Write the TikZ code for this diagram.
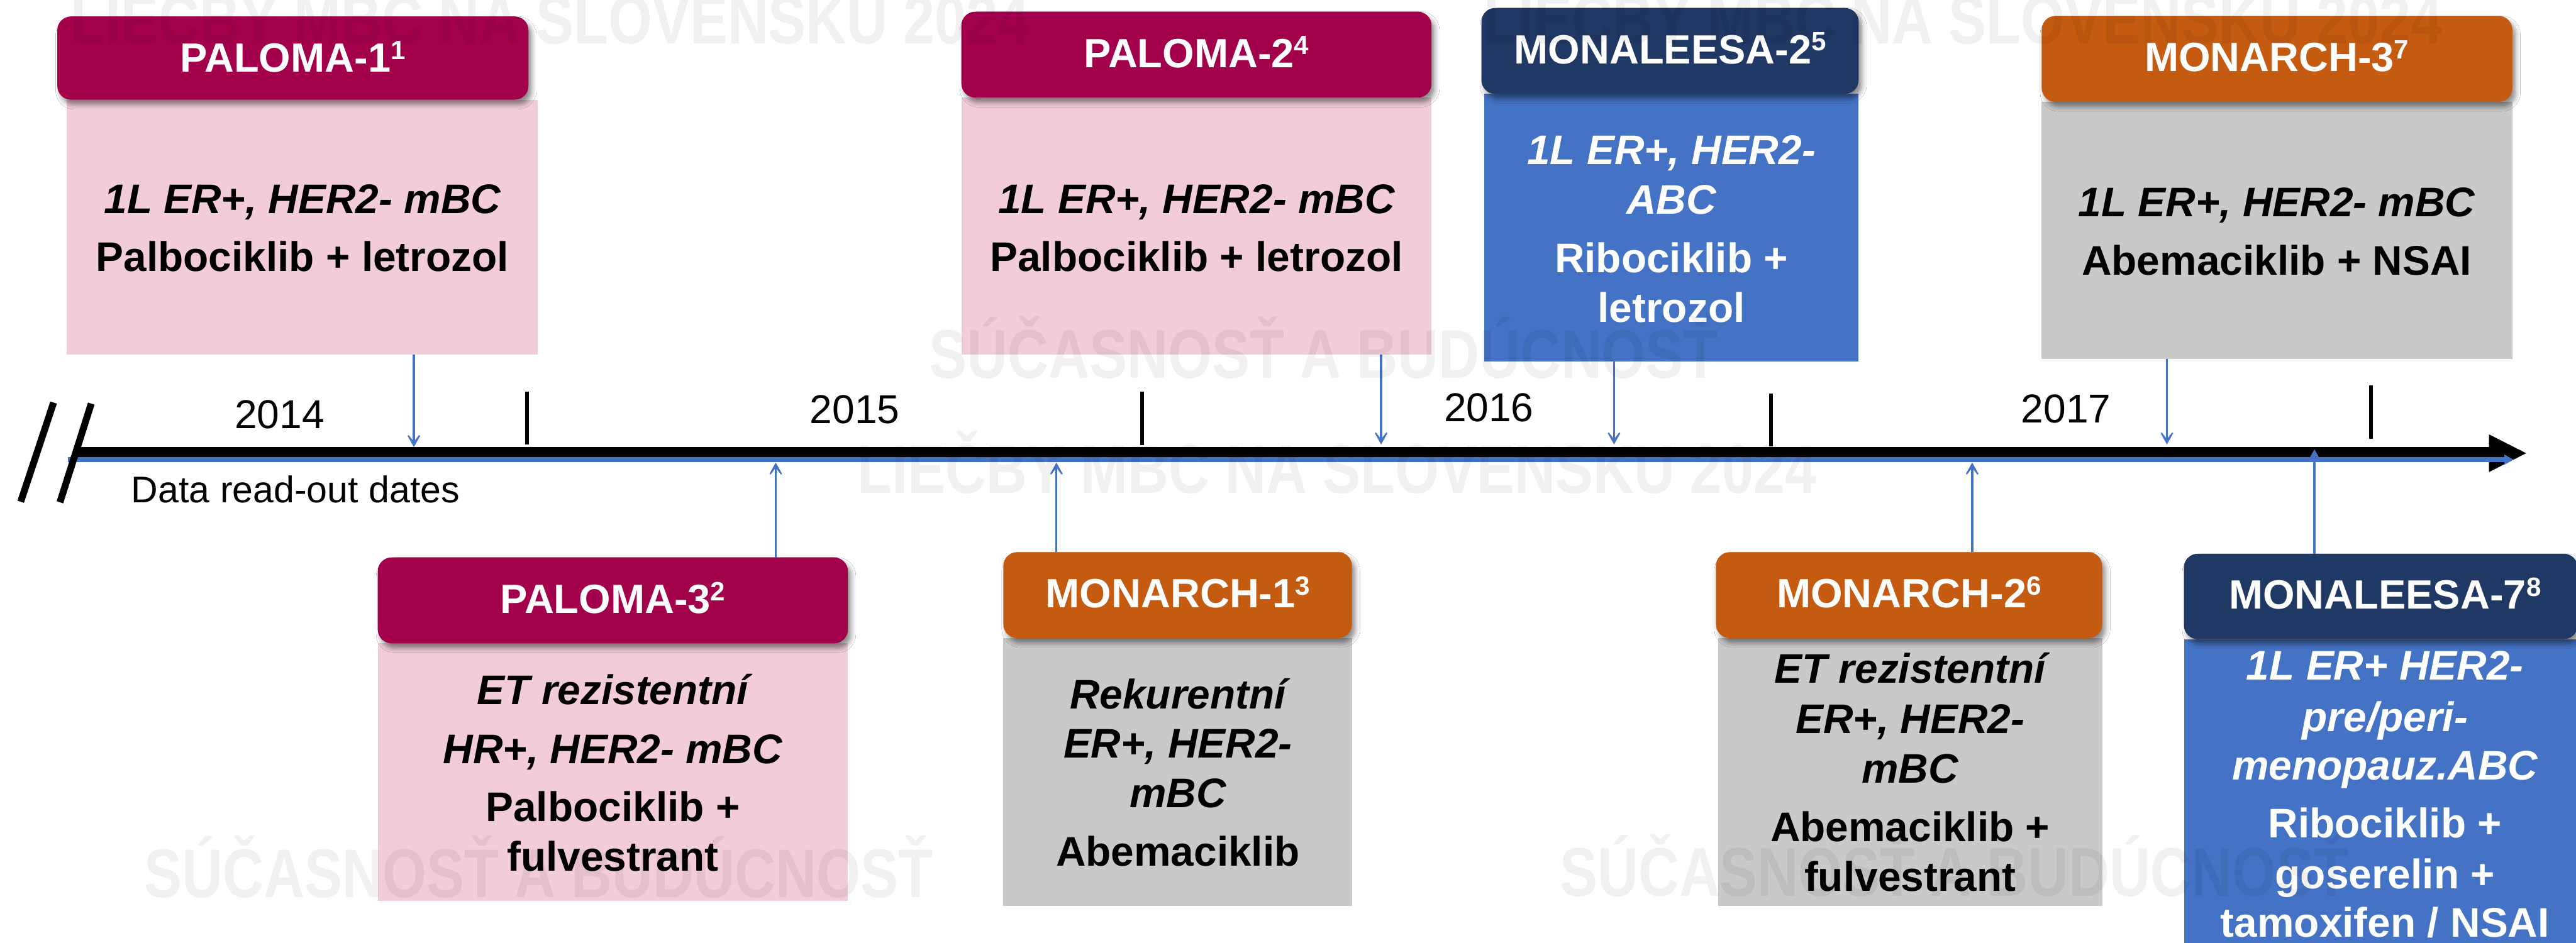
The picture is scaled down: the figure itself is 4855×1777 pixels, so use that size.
\documentclass[tikz,border=0pt]{standalone}
\usepackage{fontspec}
\setmainfont{Liberation Sans}
\newfontfamily\wmfont[FakeStretch=0.82]{Liberation Sans Bold}
\usetikzlibrary{arrows.meta,shadows.blur}
\definecolor{magc}{HTML}{A3004C}
\definecolor{navyc}{HTML}{203864}
\definecolor{orac}{HTML}{C55A11}
\definecolor{pinkc}{HTML}{F2CCDB}
\definecolor{bluec}{HTML}{4472C4}
\definecolor{grayc}{HTML}{C9C9C9}
\newcommand\supn[1]{\raisebox{24pt}{\fontsize{50}{50}\selectfont #1}}
\tikzset{
  hdr/.style={rectangle, rounded corners=26pt, inner sep=0pt, outer sep=0pt, anchor=north west,
    blur shadow={shadow xshift=6pt, shadow yshift=-9pt, shadow blur radius=9pt, shadow opacity=45}},
  bodybox/.style={rectangle, inner sep=0pt, outer sep=0pt, anchor=north west},
  ttl/.style={anchor=base, text=white, inner sep=0pt, font=\fontsize{77}{77}\selectfont\bfseries},
  txt/.style={anchor=base, inner sep=0pt, font=\fontsize{78}{78}\selectfont\bfseries},
  itx/.style={anchor=base, inner sep=0pt, font=\fontsize{78}{78}\selectfont\bfseries\itshape},
  yearlbl/.style={anchor=base, inner sep=0pt, font=\fontsize{76}{76}\selectfont},
  tickmark/.style={line width=7pt},
  conn/.style={draw=bluec, line width=4pt, -{Stealth[length=36pt,width=40pt,inset=26pt]}},
  wm/.style={anchor=base, inner sep=0pt, text=black, text opacity=0.055, font=\fontsize{130}{130}\wmfont},
}
\begin{document}
\begin{tikzpicture}[x=1pt,y=-1pt]
\clip (0,0) rectangle (4855,1777);
\fill[white] (0,0) rectangle (4855,1777);

% ---- bodies ----
\node[bodybox, fill=pinkc, minimum width=888pt, minimum height=481pt] (p1b) at (126,188) {};
\node[bodybox, fill=pinkc, minimum width=886pt, minimum height=485pt] (p2b) at (1812,184) {};
\node[bodybox, fill=bluec, minimum width=706pt, minimum height=505pt] (m2b) at (2797,177) {};
\node[bodybox, fill=grayc, minimum width=887pt, minimum height=485pt] (m3b) at (3848,192) {};
\node[bodybox, fill=pinkc, minimum width=886pt, minimum height=485pt] (p3b) at (712,1213) {};
\node[bodybox, fill=grayc, minimum width=657pt, minimum height=505pt] (n1b) at (1891,1203) {};
\node[bodybox, fill=grayc, minimum width=724pt, minimum height=505pt] (n2b) at (3238,1203) {};
\node[bodybox, fill=bluec, minimum width=740pt, minimum height=700pt] (m7b) at (4116,1205) {};

% ---- headers ----
\node[hdr, fill=magc, minimum width=888pt, minimum height=157pt] (p1h) at (108,31) {};
\node[hdr, fill=magc, minimum width=886pt, minimum height=162pt] (p2h) at (1812,22) {};
\node[hdr, fill=navyc, minimum width=711pt, minimum height=162pt] (m2h) at (2792,15) {};
\node[hdr, fill=orac, minimum width=887pt, minimum height=162pt] (m3h) at (3848,30) {};
\node[hdr, fill=magc, minimum width=886pt, minimum height=162pt] (p3h) at (712,1051) {};
\node[hdr, fill=orac, minimum width=657pt, minimum height=162pt] (n1h) at (1891,1041) {};
\node[hdr, fill=orac, minimum width=728pt, minimum height=162pt] (n2h) at (3234,1041) {};
\node[hdr, fill=navyc, minimum width=742pt, minimum height=161pt] (m7h) at (4116,1044) {};

% ---- titles ----
\node[ttl] (p1t) at (552,136) {PALOMA-1\supn{1}};
\node[ttl] (p2t) at (2255,127) {PALOMA-2\supn{4}};
\node[ttl] (m2t) at (3148,120) {MONALEESA-2\supn{5}};
\node[ttl] (m3t) at (4291,135) {MONARCH-3\supn{7}};
\node[ttl] (p3t) at (1155,1156) {PALOMA-3\supn{2}};
\node[ttl] (n1t) at (2220,1146) {MONARCH-1\supn{3}};
\node[ttl] (n2t) at (3598,1146) {MONARCH-2\supn{6}};
\node[ttl] (m7t) at (4495,1148) {MONALEESA-7\supn{8}};

% ---- body texts ----
\node[itx] (p1x1) at (570,402) {1L ER+, HER2- mBC};
\node[txt] (p1x2) at (570,512) {Palbociklib + letrozol};
\node[itx] (p2x1) at (2255,402) {1L ER+, HER2- mBC};
\node[txt] (p2x2) at (2255,511) {Palbociklib + letrozol};
\node[itx, text=white] (m2x1) at (3150,310) {1L ER+, HER2-};
\node[itx, text=white] (m2x2) at (3150,404) {ABC};
\node[txt, text=white] (m2x3) at (3150,514) {Ribociklib +};
\node[txt, text=white] (m2x4) at (3150,608) {letrozol};
\node[itx] (m3x1) at (4291,408) {1L ER+, HER2- mBC};
\node[txt] (m3x2) at (4291,519) {Abemaciklib + NSAI};
\node[itx] (p3x1) at (1155,1328) {ET rezistentní};
\node[itx] (p3x2) at (1155,1439) {HR+, HER2- mBC};
\node[txt] (p3x3) at (1155,1548) {Palbociklib +};
\node[txt] (p3x4) at (1155,1642) {fulvestrant};
\node[itx] (n1x1) at (2220,1336) {Rekurentní};
\node[itx] (n1x2) at (2220,1429) {ER+, HER2-};
\node[itx] (n1x3) at (2220,1523) {mBC};
\node[txt] (n1x4) at (2220,1633) {Abemaciklib};
\node[itx] (n2x1) at (3600,1288) {ET rezistentní};
\node[itx] (n2x2) at (3600,1383) {ER+, HER2-};
\node[itx] (n2x3) at (3600,1476) {mBC};
\node[txt] (n2x4) at (3600,1586) {Abemaciklib +};
\node[txt] (n2x5) at (3600,1680) {fulvestrant};
\node[itx, text=white] (m7x1) at (4495,1282) {1L ER+ HER2-};
\node[itx, text=white] (m7x2) at (4495,1379) {pre/peri-};
\node[itx, text=white] (m7x3) at (4495,1470) {menopauz.ABC};
\node[txt, text=white] (m7x4) at (4495,1579) {Ribociklib +};
\node[txt, text=white] (m7x5) at (4495,1675) {goserelin +};
\node[txt, text=white] (m7x6) at (4495,1767) {tamoxifen / NSAI};

% ---- timeline ----
\fill[black] (140,843) -- (4691,843) -- (4691,819) -- (4761,854.5) -- (4691,890) -- (4691,862) -- (140,862) -- cycle;
\draw[bluec, line width=9pt, -{Triangle[length=17pt,width=18pt]}] (128,866.5) -- (4737,866.5);
\draw[line width=13pt] (101,759) -- (39,946);
\draw[line width=13pt] (172,761) -- (113,947);
\draw[tickmark] (993,739) -- (993,838);
\draw[tickmark] (2153,739) -- (2153,839);
\draw[tickmark] (3338,742) -- (3338,842);
\draw[tickmark] (4469,727) -- (4469,827);
\node[yearlbl] (y14) at (527,808) {2014};
\node[yearlbl] (y15) at (1611,798) {2015};
\node[yearlbl] (y16) at (2806,795) {2016};
\node[yearlbl] (y17) at (3894,797) {2017};
\node[anchor=base, inner sep=0pt, font=\fontsize{70}{70}\selectfont] (drd) at (557,948) {Data read-out dates};

% ---- connectors ----
\coordinate (a1) at (780,843);
\coordinate (a2) at (2603,838);
\coordinate (a3) at (3042,838);
\coordinate (a4) at (4084,838);
\coordinate (b1) at (1462,872);
\coordinate (b2) at (1991,872);
\coordinate (b3) at (3717,872);
\coordinate (b4) at (4362,847);
\draw[conn] (p1b.south -| a1) -- (a1);
\draw[conn] (p2b.south -| a2) -- (a2);
\draw[conn] (m2b.south -| a3) -- (a3);
\draw[conn] (m3b.south -| a4) -- (a4);
\draw[conn] (p3h.north -| b1) -- (b1);
\draw[conn] (n1h.north -| b2) -- (b2);
\draw[conn] (n2h.north -| b3) -- (b3);
\draw[conn] (m7h.north -| b4) -- (b4);

% ---- watermark ----
\node[wm] (w1) at (1037,82) {LIEČBY MBC NA SLOVENSKU 2024};
\node[wm] (w2) at (3700,82) {LIEČBY MBC NA SLOVENSKU 2024};
\node[wm] (w3) at (2495,713) {SÚČASNOSŤ A BUDÚCNOSŤ};
\node[wm] (w4) at (2520,930) {LIEČBY MBC NA SLOVENSKU 2024};
\node[wm] (w5) at (1015,1692) {SÚČASNOSŤ A BUDÚCNOSŤ};
\node[wm] (w6) at (3683,1690) {SÚČASNOSŤ A BUDÚCNOSŤ};
\end{tikzpicture}
\end{document}
